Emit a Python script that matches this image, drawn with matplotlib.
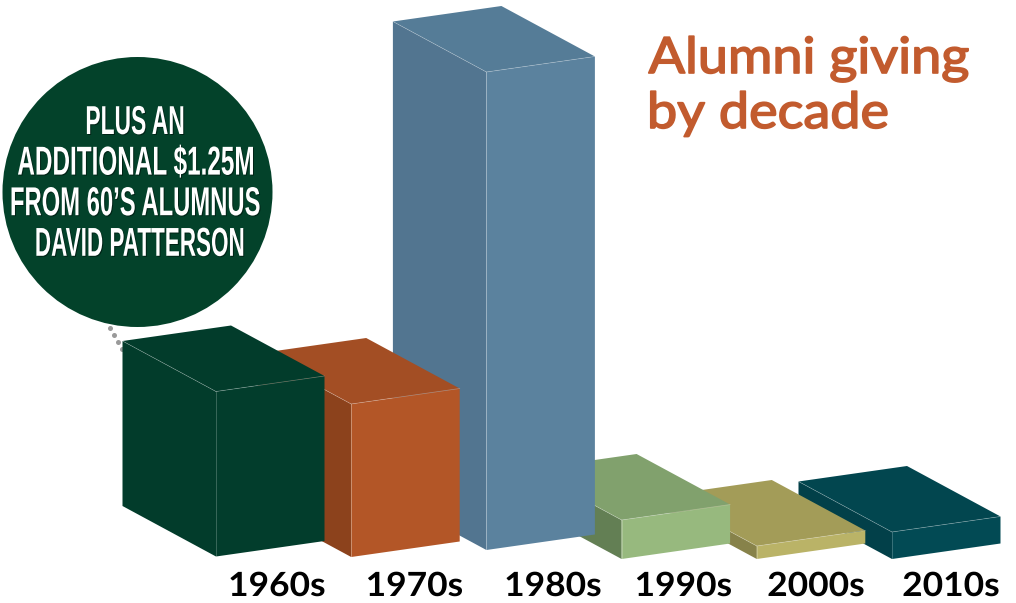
import matplotlib
matplotlib.use('Agg')
import matplotlib.pyplot as plt
from matplotlib.patches import Polygon, Circle
from matplotlib.patheffects import AbstractPathEffect
from matplotlib.transforms import Affine2D

# values (bar height, arbitrary units)
decades = ['1960s', '1970s', '1980s', '1990s', '2000s', '2010s']
giving = [165, 153, 478, 39, 13, 27]
note_lines = ['PLUS AN', 'ADDITIONAL $1.25M', 'FROM 60\u2019S ALUMNUS', 'DAVID PATTERSON']
title_lines = ['Alumni giving', 'by decade']

# face colours: front, top, left
front_colors = ['#023D2C', '#B35627', '#5B829E', '#97B97E', '#BAB367', '#024A54']
top_colors = ['#023C2B', '#A34E24', '#557C97', '#81A16D', '#A39C58', '#02464F']
left_colors = ['#023C2B', '#8C421C', '#527590', '#637F54', '#87824A', '#024049']

# layout of the fake 3D view, in pixels
first_x = 216
step_x = 135.2
base_y = [556.5, 557, 550, 559, 559, 559]
right_vec = (108.5, -15.5)
left_vec = (-93.5, -50.5)
label_x = [277, 414.5, 553, 683.5, 816, 951]
note_x = [135, 135.6, 135, 139.5]
note_sx = [0.94, 1.0, 0.98, 0.925]


class Stretch(AbstractPathEffect):
    # stretches text round the centre of each line, optional shadow and fattening
    def __init__(self, sx=1, sy=1, shadow=False, fat=0):
        super().__init__()
        self.sx = sx
        self.sy = sy
        self.shadow = shadow
        self.fat = fat

    def draw_path(self, renderer, gc, tpath, affine, rgbFace=None):
        box = tpath.get_extents()
        c = (box.x0 + box.x1) / 2
        new = Affine2D().translate(-c, 0).scale(self.sx, self.sy).translate(c, 0) + affine
        if self.shadow:
            renderer.draw_path(gc, tpath, new + Affine2D().translate(1, -1), (0, 0, 0, 0.45))
        if self.fat:
            gc0 = renderer.new_gc()
            gc0.copy_properties(gc)
            gc0.set_linewidth(self.fat)
            gc0.set_foreground(rgbFace)
            renderer.draw_path(gc0, tpath, new, rgbFace)
            gc0.restore()
        else:
            renderer.draw_path(gc, tpath, new, rgbFace)


fig = plt.figure(figsize=(10.16, 6.03), dpi=100)
ax = fig.add_axes([0, 0, 1, 1])
ax.set_xlim(0, 1016)
ax.set_ylim(603, 0)
ax.axis('off')

# note bubble and dotted leader
ax.add_patch(Circle((137.5, 192), 135, color='#03422A', lw=0, zorder=0.5))
ax.scatter([110, 114, 118, 122], [328, 335, 342, 349], s=13, color='#9A9A9A', lw=0, zorder=0.5)

for i, line in enumerate(note_lines):
    ax.text(note_x[i], 134 + 40.6 * i, line, color='white', fontsize=17.5, fontweight='bold', ha='center',
            va='baseline', family='Liberation Sans', path_effects=[Stretch(sx=note_sx[i], sy=1.66, shadow=True)])

# bars, back to front so the 1960s bar ends up on top
for k, i in enumerate(reversed(range(len(giving)))):
    x = first_x + step_x * i
    y = base_y[i]
    h = giving[i]
    rx, ry = right_vec
    lx, ly = left_vec
    t = y - h
    z = 1 + 0.1 * k
    front = [(x, y), (x + rx, y + ry), (x + rx, t + ry), (x, t)]
    left = [(x, y), (x + lx, y + ly), (x + lx, t + ly), (x, t)]
    top = [(x, t), (x + rx, t + ry), (x + rx + lx, t + ry + ly), (x + lx, t + ly)]
    ax.add_patch(Polygon(left, color=left_colors[i], lw=0, zorder=z))
    ax.add_patch(Polygon(front, color=front_colors[i], lw=0, zorder=z))
    ax.add_patch(Polygon(top, color=top_colors[i], lw=0, zorder=z))
    # thin light edges round the near corner
    ax.plot([x, x], [y, t], color='white', lw=0.5, alpha=0.3, zorder=z)
    ax.plot([x, x + rx], [t, t + ry], color='white', lw=0.5, alpha=0.3, zorder=z)
    ax.plot([x, x + lx], [t, t + ly], color='white', lw=0.5, alpha=0.3, zorder=z)

# decade labels
for i, d in enumerate(decades):
    ax.text(label_x[i], 596, d, color='black', fontsize=24, fontweight='bold', family='Lato',
            ha='center', va='baseline', path_effects=[Stretch(sx=1.06)])

# title
ax.text(809, 73, title_lines[0], color='#C25B2E', fontsize=36, family='Lato', ha='center', va='baseline',
        path_effects=[Stretch(sx=1.08, fat=1.2)])
ax.text(768, 128, title_lines[1], color='#C25B2E', fontsize=36, family='Lato', ha='center', va='baseline',
        path_effects=[Stretch(sx=1.08, fat=1.2)])

plt.savefig('out.png', dpi=100)
